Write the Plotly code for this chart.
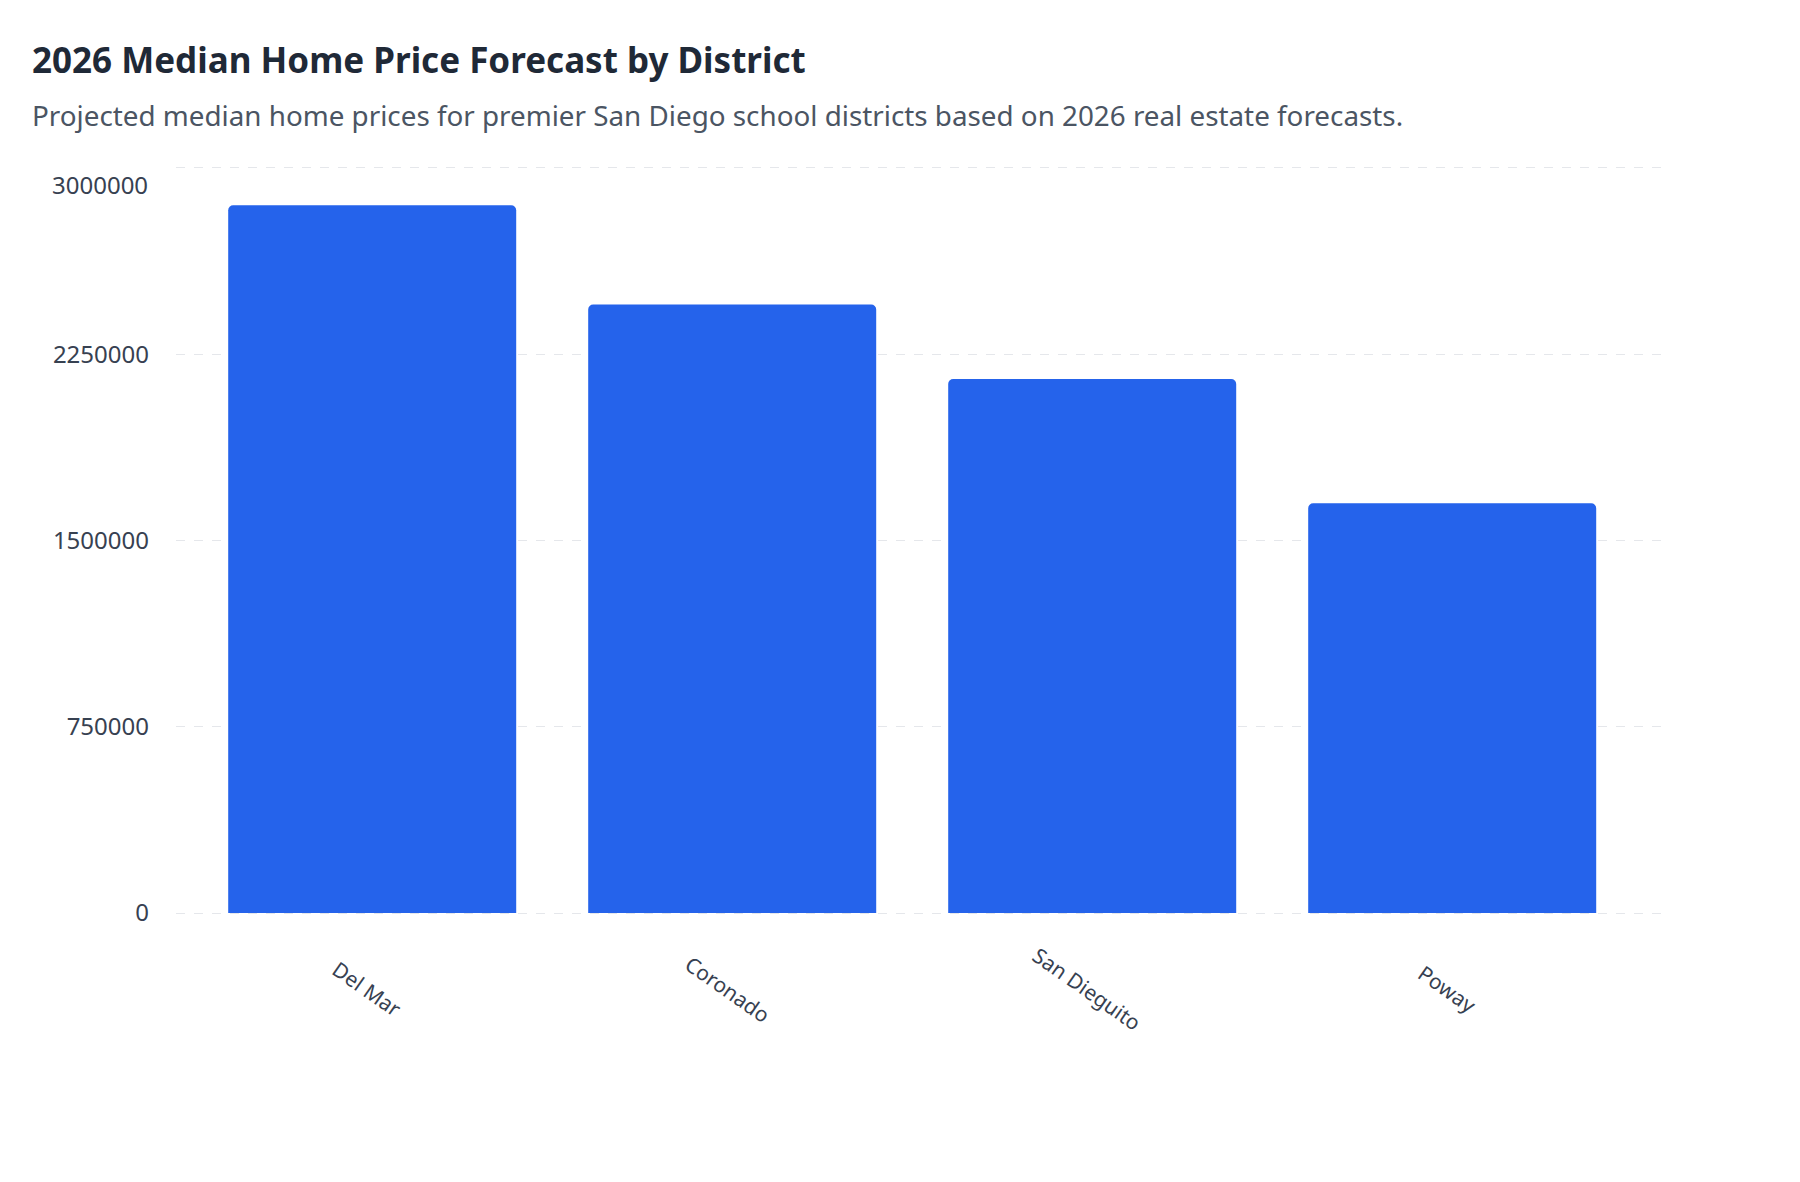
import plotly.graph_objects as go

# 数据
districts = ["Del Mar", "Coronado", "San Dieguito", "Poway"]
median_prices = [2850000, 2450000, 2150000, 1650000]
y_ticks = [0, 750000, 1500000, 2250000, 3000000]

title_text = "2026 Median Home Price Forecast by District"
subtitle_text = "Projected median home prices for premier San Diego school districts based on 2026 real estate forecasts."

W, H = 1800, 1182
ml, mr, mt, mb = 168, 138, 158, 275
pw, ph = W - ml - mr, H - mt - mb

fig = go.Figure()
fig.add_trace(go.Bar(
    x=districts,
    y=median_prices,
    marker=dict(color="#2563EB", cornerradius=5, line=dict(width=0)),
    hovertemplate="%{x}: %{y}<extra></extra>",
))

# 倾斜的类别标签
for name in districts:
    fig.add_annotation(
        x=name, y=0, xref="x", yref="paper",
        text=name, showarrow=False, textangle=35,
        xanchor="center", yanchor="middle",
        xshift=-5, yshift=-74,
        font=dict(size=21, color="#374151"),
    )

# 顶部刻度标签稍微下移（与原图一致）
tick_text = [str(v) for v in y_ticks[:-1]] + [""]
fig.add_annotation(
    x=(142 - ml) / pw, y=y_ticks[-1], xref="paper", yref="y",
    text=str(y_ticks[-1]), showarrow=False, xanchor="right", yanchor="middle",
    yshift=-17, font=dict(size=24, color="#374151"),
)

# 副标题
fig.add_annotation(
    x=(22 - ml) / pw, y=(H - mb - 107) / ph, xref="paper", yref="paper",
    text=subtitle_text, showarrow=False, xanchor="left", yanchor="middle",
    font=dict(size=27.8, color="#4B5563"),
)

fig.update_layout(
    width=W, height=H,
    margin=dict(l=ml, r=mr, t=mt, b=mb),
    paper_bgcolor="white", plot_bgcolor="white",
    font=dict(family="Noto Sans, sans-serif", color="#374151"),
    title=dict(
        text="<b>" + title_text + "</b>",
        xref="container", yref="container",
        x=24 / W, y=1 - 53 / H, xanchor="left", yanchor="middle",
        font=dict(size=35, color="#1F2937"),
    ),
    bargap=0.2,
    showlegend=False,
)
fig.update_xaxes(
    range=[-0.545, 3.605], showticklabels=False, showgrid=False,
    zeroline=False, showline=False, ticks="",
)
fig.update_yaxes(
    range=[-8000, 3008000], tickvals=y_ticks, ticktext=tick_text,
    showgrid=True, gridcolor="#E5E7EB", griddash="dash", gridwidth=1,
    zeroline=False, showline=False, ticks="", ticklabelstandoff=26,
    tickfont=dict(size=24, color="#374151"),
)

fig.write_html("out.html")
